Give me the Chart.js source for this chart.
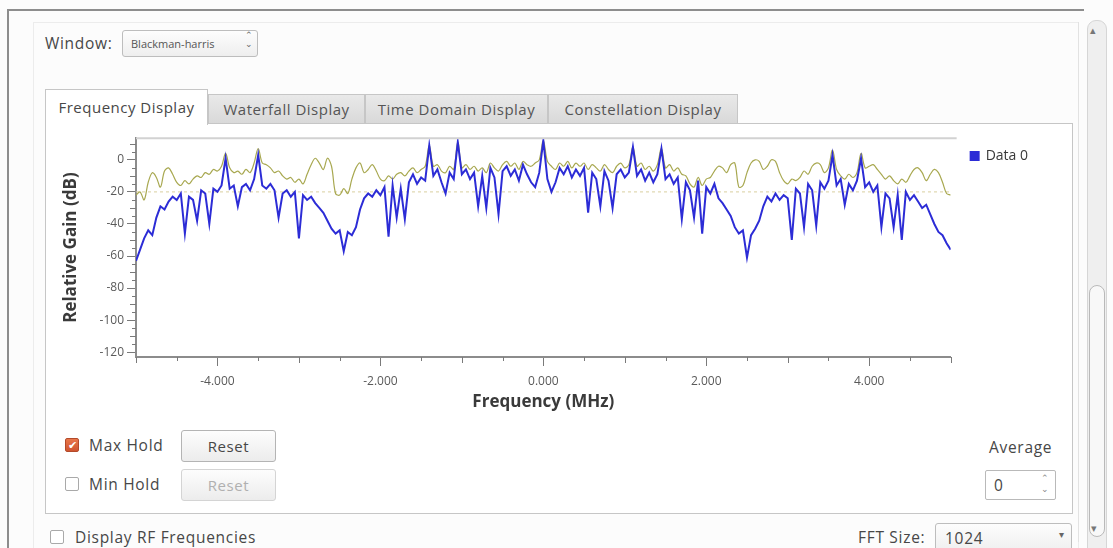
<!DOCTYPE html>
<html>
<head>
<meta charset="utf-8">
<script src="https://cdn.jsdelivr.net/npm/chart.js@4.4.0/dist/chart.umd.min.js"></script>
<style>
  body { margin: 0; width: 1113px; height: 548px; overflow: hidden; background: #fcfcfc;
         font-family: "Open Sans", "Noto Sans", sans-serif; color: #474747; position: relative; }
  .abs { position: absolute; }
  .lbl { font-size: 15.5px; letter-spacing: 0.7px; white-space: nowrap; }
  .btn { border: 1px solid #b4b4b4; border-radius: 3px; background: linear-gradient(#fdfdfd, #ececec);
         font-size: 15px; letter-spacing: 0.6px; text-align: center; box-sizing: border-box; }
  .tab { box-sizing: border-box; font-size: 15px; letter-spacing: 0.5px; white-space: nowrap; text-align: center;
         border: 1px solid #c6c6c6; border-bottom: none; background: linear-gradient(#e9e9e9, #d9d9d9); color: #555; }
  .chk { width: 14px; height: 14px; box-sizing: border-box; border: 1px solid #a9a9a9; border-radius: 2px; background: #fff; }
</style>
</head>
<body>
<!-- window frame -->
<div class="abs" style="left:7px;top:9px;width:1075px;height:560px;border-top:2px solid #8d8d8d;border-left:2px solid #8d8d8d;"></div>
<div class="abs" style="left:33px;top:22px;width:1044px;height:540px;border:1px solid #ececec;"></div>
<div class="abs" style="left:1078px;top:22px;width:0;height:520px;border-left:1px solid #e2e2e2;"></div>

<!-- scrollbar -->
<div class="abs" style="left:1087px;top:20px;width:18px;height:540px;background:#efefef;border:1px solid #d6d6d6;border-radius:9px;"></div>
<div class="abs" style="left:1089px;top:285px;width:14px;height:250px;background:#f8f8f8;border:1px solid #b9b9b9;border-radius:8px;"></div>
<div class="abs" style="left:1090px;top:22px;font-size:11px;color:#777;">&#9652;</div>
<div class="abs" style="left:1091px;top:520px;font-size:11px;color:#777;">&#9662;</div>

<!-- Window selector -->
<div class="abs lbl" style="left:45px;top:32px;">Window:</div>
<div class="abs" style="left:122px;top:30px;width:136px;height:27px;box-sizing:border-box;border:1px solid #bdbdbd;border-radius:3px;background:linear-gradient(#fdfdfd,#eeeeee);"></div>
<div class="abs" style="left:131px;top:36px;font-size:11px;color:#555;white-space:nowrap;">Blackman-harris</div>
<div class="abs" style="left:245px;top:30px;font-size:9px;line-height:9px;color:#666;">&#8963;<br>&#8964;</div>

<!-- tabs -->
<div class="abs tab" style="left:208px;top:94px;width:157px;height:29px;line-height:28px;">Waterfall Display</div>
<div class="abs tab" style="left:365px;top:94px;width:183px;height:29px;line-height:28px;">Time Domain Display</div>
<div class="abs tab" style="left:548px;top:94px;width:190px;height:29px;line-height:28px;">Constellation Display</div>
<div class="abs" style="left:45px;top:123px;width:1028px;height:391px;box-sizing:border-box;border:1px solid #c6c6c6;background:#fff;"></div>
<div class="abs tab" style="left:45px;top:89px;width:163px;height:36px;line-height:34px;background:#fff;color:#474747;">Frequency Display</div>

<!-- chart -->
<div class="abs" style="left:55px;top:128px;width:1015px;height:292px;">
  <canvas id="freqChart" width="1015" height="292"></canvas>
</div>

<!-- hold controls -->
<div class="abs chk" style="left:65px;top:438px;background:linear-gradient(#e8764a,#cf5530);border-color:#b34a2a;color:#fff;font-size:11px;line-height:12px;text-align:center;">&#10004;</div>
<div class="abs lbl" style="left:89px;top:434px;">Max Hold</div>
<div class="abs btn" style="left:181px;top:430px;width:95px;height:32px;line-height:30px;">Reset</div>
<div class="abs chk" style="left:65px;top:477px;"></div>
<div class="abs lbl" style="left:89px;top:473px;">Min Hold</div>
<div class="abs btn" style="left:181px;top:469px;width:95px;height:32px;line-height:30px;color:#b0b0b0;border-color:#d4d4d4;">Reset</div>

<!-- average -->
<div class="abs lbl" style="left:989px;top:436px;">Average</div>
<div class="abs" style="left:985px;top:470px;width:71px;height:30px;box-sizing:border-box;border:1px solid #b9b9b9;border-radius:2px;background:#fff;"></div>
<div class="abs lbl" style="left:994px;top:474px;">0</div>
<div class="abs" style="left:1041px;top:472px;font-size:9px;line-height:11px;color:#888;">&#8963;<br>&#8964;</div>

<!-- bottom row -->
<div class="abs chk" style="left:50px;top:530px;"></div>
<div class="abs lbl" style="left:75px;top:526px;">Display RF Frequencies</div>
<div class="abs lbl" style="left:858px;top:526px;">FFT Size:</div>
<div class="abs" style="left:935px;top:523px;width:137px;height:32px;box-sizing:border-box;border:1px solid #bdbdbd;border-radius:3px;background:linear-gradient(#fdfdfd,#eeeeee);"></div>
<div class="abs lbl" style="left:945px;top:527px;">1024</div>
<div class="abs" style="left:1059px;top:527px;font-size:10px;color:#666;">&#9662;</div>

<script>
// spectrum, one value every 0.05 MHz from -5 to +5 MHz
const freqStart = -5;
const freqStep = 0.05;

// Data 0 (live trace), dB
const blueDb = [
  -63, -56, -49, -44, -47, -36, -29, -31, -26, -23,
  -25, -21, -46, -23, -25, -38, -19, -21, -40, -18,
  -20, -16, 1, -18, -16, -29, -17, -15, -19, -12,
  3, -16, -18, -15, -19, -36, -21, -19, -23, -20,
  -49, -22, -25, -23, -27, -30, -33, -38, -43, -46,
  -44, -57, -45, -47, -42, -31, -24, -21, -23, -19,
  -22, -17, -48, -16, -36, -18, -37,
  -14, -9, -15, -11, -13, 9, -10, -6, -14, -21,
  -8, -12, 11, -9, -6, -12, -8, -29, -10, -30,
  -5, -11, -34, -7, -4, -10, -6, -13, -3, -9,
  -14, -17, -8, 12, -12, -20, -14, -5, -9, -4,
  -11, -6, -10, -5, -33, -8, -12, -29, -7, -13,
  -30, -9, -6, -11, -8, 8, -10, -6, -13, -8,
  -14, -9, 7, -12, -9, -15, -11, -37,
  -14, -19, -36, -13, -46, -17, -21, -15, -24, -27,
  -31, -35, -42, -46, -44, -61, -47, -43, -38, -29,
  -23, -26, -21, -25, -22, -24, -50, -18, -21, -42,
  -15, -19, -41, -14, -18, -13, 3, -16, -12, -28,
  -15, -19, -13, 1, -17, -14, -20, -16, -42, -21,
  -24, -42, -22, -50, -20, -25, -22, -26, -30, -28,
  -34, -40, -45, -47, -52, -56
];

// Max hold trace, dB
const maxHoldDb = [
  -22, -20, -25, -14, -8, -11, -17, -7, -5, -9,
  -14, -16, -13, -15, -12, -10, -11, -8, -9, -6,
  -7, -4, 4, -5, -8, -7, -9, -6, -8, -2,
  7, -2, -3, -5, -8, -7, -10, -12, -11, -14,
  -12, -15, -9, -3, 1, -2, -6, 1, -4, -21,
  -22, -18, -21, -12, -5, -2, -8, -6, -3, -7,
  -12, -13, -10, -12, -9, -8, -10,
  -7, -5, -8, -6, -4, 9, -4, -3, -7, -8,
  -4, -6, 11, -5, -3, -6, -4, -7, -5, -8,
  -2, -5, -7, -3, -1, -4, -2, -6, -1, -3,
  -4, -2, 0, 12, -1, -4, -6, -2, -4, -1,
  -5, -2, -4, -2, -6, -3, -5, -7, -3, -6,
  -8, -4, -2, -5, -3, 8, -4, -2, -6, -4,
  -7, -3, 7, -5, -3, -7, -5, -9,
  -10, -15, -17, -11, -16, -12, -11, -7, -4, -5,
  -8, -3, -2, -17, -16, -8, -2, 0, -1, -6,
  -4, 0, -1, -8, -13, -15, -12, -13, -11, -7,
  -9, -4, -2, -3, -8, -5, 6, -6, -10, -12,
  -9, -11, -8, 4, -5, -4, -3, -6, -9, -12,
  -10, -13, -15, -12, -14, -10, -6, -5, -8, -13,
  -9, -6, -8, -14, -21, -22
];

const thresholdDb = -20;
const xMin = -5, xMax = 5;
const yMin = -123, yMax = 13.5;
const xTickValues = [-4, -2, 0, 2, 4];
const yTickValues = [0, -20, -40, -60, -80, -100, -120];

const freqs = blueDb.map((_, i) => +(freqStart + i * freqStep).toFixed(2));
const toPoints = arr => arr.map((v, i) => ({ x: freqs[i], y: v }));

const fontFamily = "'Open Sans', 'Noto Sans', sans-serif";
const tickFont = { family: fontFamily, size: 12 };
const titleFont = { family: fontFamily, size: 17, weight: 'bold' };

// qwt style minor/medium ticks + light frame on top of the canvas
const qwtTicks = {
    id: 'qwtTicks',
    afterDraw(chart) {
        const { ctx, chartArea, scales } = chart;
        const x = scales.x, y = scales.y;
        ctx.save();
        ctx.strokeStyle = '#d2d2d2';
        ctx.lineWidth = 2;
        ctx.beginPath();
        ctx.moveTo(chartArea.left, chartArea.top);
        ctx.lineTo(chartArea.right + 6, chartArea.top);
        ctx.stroke();

        ctx.strokeStyle = '#7a7a7a';
        ctx.lineWidth = 1;
        for (let v = xMin; v <= xMax + 0.001; v += 0.5) {
            if (xTickValues.includes(v)) continue;
            const px = Math.round(x.getPixelForValue(v)) + 0.5;
            const len = Number.isInteger(v) ? 6 : 4;
            ctx.beginPath();
            ctx.moveTo(px, x.top);
            ctx.lineTo(px, x.top + len);
            ctx.stroke();
        }
        for (let v = -120; v <= 10; v += 5) {
            if (yTickValues.includes(v)) continue;
            const py = Math.round(y.getPixelForValue(v)) + 0.5;
            const len = v % 10 === 0 ? 6 : 4;
            ctx.beginPath();
            ctx.moveTo(y.right, py);
            ctx.lineTo(y.right - len, py);
            ctx.stroke();
        }
        ctx.restore();
    }
};

const ctx = document.getElementById('freqChart').getContext('2d');
new Chart(ctx, {
    type: 'line',
    data: {
        datasets: [{
            label: 'Data 0',
            data: toPoints(blueDb),
            borderColor: 'rgb(44, 44, 214)',
            backgroundColor: 'rgb(44, 44, 214)',
            borderWidth: 2,
            pointRadius: 0,
            tension: 0
        }, {
            label: 'Max Hold',
            data: toPoints(maxHoldDb),
            borderColor: '#a8a850',
            backgroundColor: '#a8a850',
            borderWidth: 1.2,
            pointRadius: 0,
            tension: 0.35
        }, {
            label: 'Threshold',
            data: [{ x: xMin, y: thresholdDb }, { x: xMax, y: thresholdDb }],
            borderColor: '#d9d0a0',
            borderDash: [3, 3],
            borderWidth: 1,
            pointRadius: 0
        }]
    },
    options: {
        responsive: false,
        animation: false,
        layout: { padding: { left: 4, top: 9, right: 32, bottom: 5 } },
        scales: {
            x: {
                type: 'linear',
                min: xMin,
                max: xMax,
                afterBuildTicks: s => { s.ticks = xTickValues.map(v => ({ value: v })); },
                afterFit: s => { s.height = 58; },
                ticks: {
                    callback: v => v.toFixed(3),
                    font: tickFont,
                    color: '#5a5a5a',
                    maxRotation: 0,
                    autoSkip: false,
                    padding: 8
                },
                grid: { drawOnChartArea: false, tickLength: 9, color: '#7a7a7a' },
                border: { color: '#8c8c8c', width: 2 },
                title: { display: true, text: 'Frequency (MHz)', font: titleFont, color: '#3a3a3a', padding: { top: 0, bottom: 3 } }
            },
            y: {
                min: yMin,
                max: yMax,
                afterBuildTicks: s => { s.ticks = yTickValues.map(v => ({ value: v })); },
                afterFit: s => { s.width = 77; },
                ticks: { font: tickFont, color: '#5a5a5a', padding: 3 },
                grid: { drawOnChartArea: false, tickLength: 9, color: '#7a7a7a' },
                border: { color: '#8c8c8c', width: 2 },
                title: { display: true, text: 'Relative Gain (dB)', font: titleFont, color: '#3a3a3a', padding: { top: 2, bottom: 0 } }
            },
            // empty right axis: only keeps a gap between the canvas and the legend
            yGap: {
                position: 'right',
                min: yMin,
                max: yMax,
                grid: { display: false },
                ticks: { display: false },
                border: { display: false },
                afterFit: s => { s.width = 8; }
            }
        },
        plugins: {
            legend: {
                position: 'right',
                align: 'start',
                labels: {
                    filter: item => item.datasetIndex === 0,
                    boxWidth: 8,
                    boxHeight: 8,
                    padding: 12,
                    color: '#3a3a3a',
                    font: { family: fontFamily, size: 14 }
                }
            },
            tooltip: { enabled: false }
        }
    },
    plugins: [qwtTicks]
});
</script>
</body>
</html>
